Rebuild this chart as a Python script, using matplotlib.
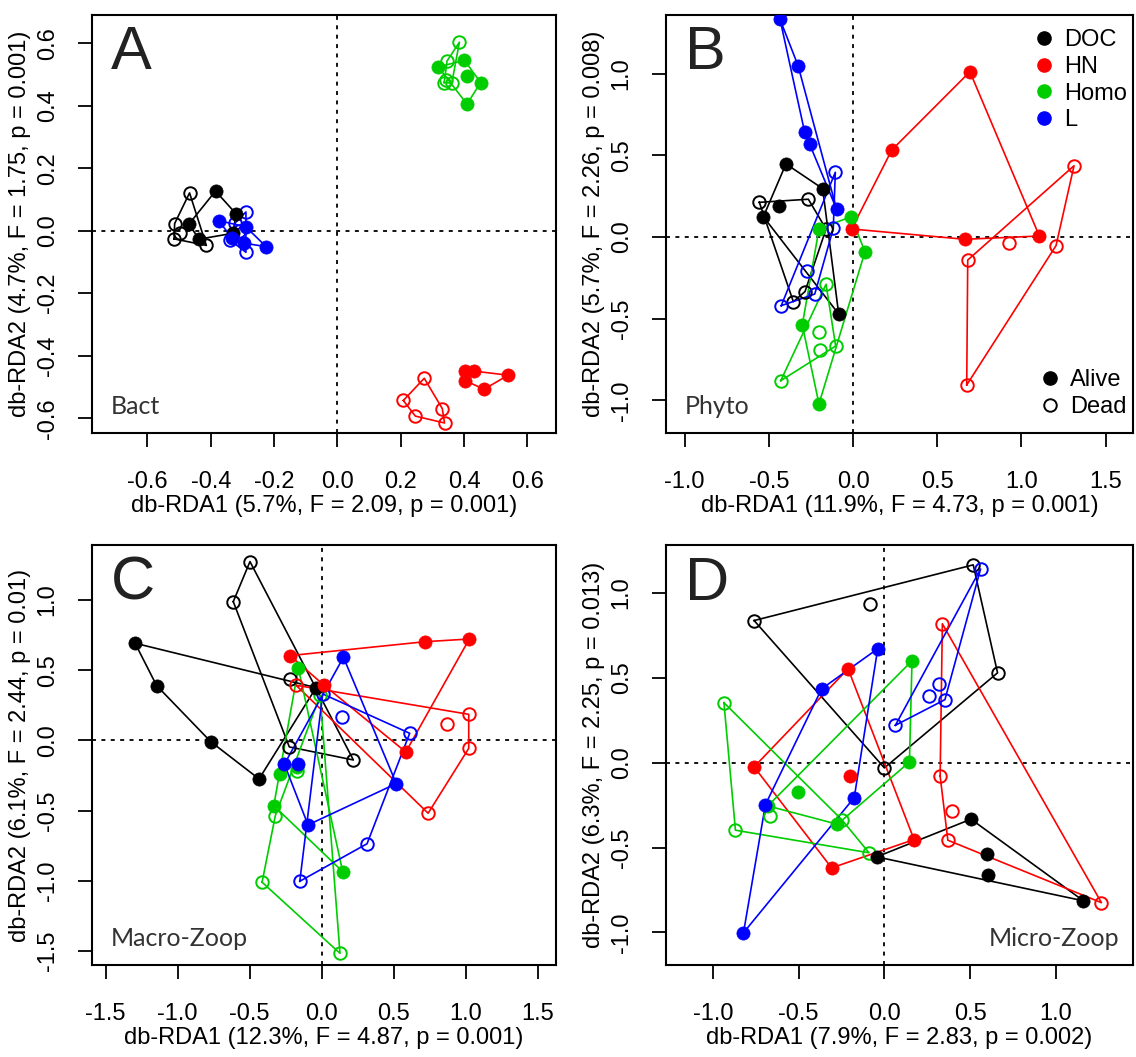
"""
db-RDA ordinations (Bact, Phyto, Macro-Zoop, Micro-Zoop) with per-group hulls.
Alive = filled circles, Dead = open circles; colour = treatment.
"""
import matplotlib.pyplot as plt
from matplotlib.lines import Line2D
from matplotlib.ticker import FormatStrFormatter

plt.rcParams["font.family"] = ["Liberation Sans", "DejaVu Sans"]
plt.rcParams["axes.unicode_minus"] = False

TREATMENTS = ["DOC", "HN", "Homo", "L"]
COLORS = {"DOC": "#000000", "HN": "#ff0000", "Homo": "#00cd00", "L": "#0000ff"}

# ---- Panel A: Bact  (treatment -> (db-RDA1, db-RDA2)) ----
BACT_ALIVE = {
    "DOC":  ([-0.469, -0.385, -0.321, -0.437, -0.329], [0.021, 0.127, 0.055, -0.027, -0.008]),
    "HN":   ([0.404, 0.430, 0.404, 0.463, 0.539], [-0.449, -0.449, -0.480, -0.507, -0.462]),
    "Homo": ([0.318, 0.401, 0.410, 0.452, 0.409], [0.524, 0.545, 0.495, 0.474, 0.405]),
    "L":    ([-0.375, -0.290, -0.294, -0.225, -0.334], [0.032, 0.013, -0.040, -0.051, -0.022]),
}
BACT_DEAD = {
    "DOC":  ([-0.467, -0.514, -0.498, -0.516, -0.414], [0.121, 0.023, -0.006, -0.026, -0.047]),
    "HN":   ([0.274, 0.208, 0.246, 0.331, 0.338], [-0.472, -0.543, -0.593, -0.569, -0.615]),
    "Homo": ([0.385, 0.346, 0.343, 0.361, 0.337], [0.603, 0.543, 0.482, 0.472, 0.474]),
    "L":    ([-0.289, -0.289, -0.340, -0.322, -0.310], [0.060, -0.069, -0.029, 0.026, 0.000]),
}

# ---- Panel B: Phyto ----
PHYTO_ALIVE = {
    "DOC":  ([-0.398, -0.180, -0.437, -0.532, -0.085], [0.447, 0.296, 0.191, 0.124, -0.471]),
    "HN":   ([0.694, 0.230, 1.106, 0.663, -0.008], [1.011, 0.532, 0.006, -0.014, 0.049]),
    "Homo": ([-0.012, -0.202, 0.071, -0.301, -0.202], [0.124, 0.049, -0.090, -0.538, -1.021]),
    "L":    ([-0.433, -0.326, -0.287, -0.257, -0.097], [1.331, 1.048, 0.642, 0.569, 0.169]),
}
PHYTO_DEAD = {
    "DOC":  ([-0.556, -0.265, -0.160, -0.354, -0.285], [0.212, 0.231, 0.049, -0.396, -0.334]),
    "HN":   ([1.312, 1.205, 0.928, 0.681, 0.675], [0.436, -0.053, -0.035, -0.141, -0.905]),
    "Homo": ([-0.160, -0.200, -0.196, -0.103, -0.429], [-0.289, -0.583, -0.691, -0.667, -0.879]),
    "L":    ([-0.105, -0.117, -0.271, -0.227, -0.426], [0.396, 0.053, -0.206, -0.349, -0.420]),
}

# ---- Panel C: Macro-Zoop ----
MACRO_ALIVE = {
    "DOC":  ([-1.295, -1.145, -0.770, -0.434, -0.038], [0.692, 0.390, -0.008, -0.274, 0.376]),
    "HN":   ([-0.219, 0.721, 1.026, 0.015, 0.585], [0.604, 0.703, 0.722, 0.395, -0.082]),
    "Homo": ([-0.161, -0.290, -0.332, 0.147, -0.170], [0.514, -0.238, -0.464, -0.934, -0.190]),
    "L":    ([0.152, -0.258, -0.165, -0.094, 0.519], [0.592, -0.169, -0.169, -0.601, -0.307]),
}
MACRO_DEAD = {
    "DOC":  ([-0.497, -0.613, -0.219, -0.224, 0.221], [1.273, 0.988, 0.435, -0.046, -0.139]),
    "HN":   ([-0.177, 1.022, 0.874, 1.022, 0.740], [0.393, 0.186, 0.117, -0.056, -0.518]),
    "Homo": ([-0.172, -0.321, -0.413, 0.128, -0.010], [-0.215, -0.535, -1.009, -1.515, 0.320]),
    "L":    ([0.008, 0.140, 0.612, 0.316, -0.151], [0.331, 0.165, 0.051, -0.735, -1.002]),
}

# ---- Panel D: Micro-Zoop ----
MICRO_ALIVE = {
    "DOC":  ([-0.045, 0.505, 1.161, 0.600, 0.604], [-0.555, -0.333, -0.814, -0.539, -0.663]),
    "HN":   ([-0.212, -0.760, -0.308, 0.173, -0.201], [0.553, -0.025, -0.620, -0.453, -0.080]),
    "Homo": ([0.161, 0.146, -0.503, -0.274, -0.680], [0.600, 0.004, -0.173, -0.363, -0.255]),
    "L":    ([-0.039, -0.366, -0.694, -0.822, -0.176], [0.671, 0.435, -0.247, -1.002, -0.206]),
}
MICRO_DEAD = {
    "DOC":  ([-0.760, 0.518, 0.660, 0.000, -0.084], [0.837, 1.165, 0.529, -0.031, 0.935]),
    "HN":   ([0.338, 0.325, 0.392, 0.370, 1.266], [0.818, -0.078, -0.286, -0.457, -0.825]),
    "Homo": ([-0.936, -0.869, -0.090, -0.246, -0.670], [0.353, -0.398, -0.531, -0.339, -0.314]),
    "L":    ([0.561, 0.064, 0.353, 0.261, 0.317], [1.141, 0.220, 0.371, 0.392, 0.465]),
}

PANELS = [
    # letter, name, alive, dead, xlabel, ylabel, xticks, yticks, xlim, ylim, box(px: l, t, r, b)
    ("A", "Bact", BACT_ALIVE, BACT_DEAD,
     "db-RDA1 (5.7%, F = 2.09, p = 0.001)", "db-RDA2 (4.7%, F = 1.75, p = 0.001)",
     [-0.6, -0.4, -0.2, 0.0, 0.2, 0.4, 0.6], [-0.6, -0.4, -0.2, 0.0, 0.2, 0.4, 0.6],
     (-0.775, 0.69), (-0.647, 0.69), (92, 15, 556, 433)),
    ("B", "Phyto", PHYTO_ALIVE, PHYTO_DEAD,
     "db-RDA1 (11.9%, F = 4.73, p = 0.001)", "db-RDA2 (5.7%, F = 2.26, p = 0.008)",
     [-1.0, -0.5, 0.0, 0.5, 1.0, 1.5], [-1.0, -0.5, 0.0, 0.5, 1.0],
     (-1.110, 1.662), (-1.199, 1.358), (666, 15, 1133, 433)),
    ("C", "Macro-Zoop", MACRO_ALIVE, MACRO_DEAD,
     "db-RDA1 (12.3%, F = 4.87, p = 0.001)", "db-RDA2 (6.1%, F = 2.44, p = 0.01)",
     [-1.5, -1.0, -0.5, 0.0, 0.5, 1.0, 1.5], [-1.5, -1.0, -0.5, 0.0, 0.5, 1.0],
     (-1.594, 1.628), (-1.598, 1.391), (92, 545, 556, 965)),
    ("D", "Micro-Zoop", MICRO_ALIVE, MICRO_DEAD,
     "db-RDA1 (7.9%, F = 2.83, p = 0.002)", "db-RDA2 (6.3%, F = 2.25, p = 0.013)",
     [-1.0, -0.5, 0.0, 0.5, 1.0], [-1.0, -0.5, 0.0, 0.5, 1.0],
     (-1.274, 1.45), (-1.192, 1.282), (666, 545, 1133, 965)),
]

W, H = 1136, 1057
FS = 17


def convex_hull(xs, ys):
    pts = sorted(set(zip(xs, ys)))

    def cross(o, a, b):
        return (a[0] - o[0]) * (b[1] - o[1]) - (a[1] - o[1]) * (b[0] - o[0])

    lower, upper = [], []
    for p in pts:
        while len(lower) >= 2 and cross(lower[-2], lower[-1], p) <= 0:
            lower.pop()
        lower.append(p)
    for p in reversed(pts):
        while len(upper) >= 2 and cross(upper[-2], upper[-1], p) <= 0:
            upper.pop()
        upper.append(p)
    hull = lower[:-1] + upper[:-1]
    hull.append(hull[0])
    return [p[0] for p in hull], [p[1] for p in hull]


def draw_panel(fig, spec):
    (letter, name, alive, dead, xlab, ylab, xt, yt, xlim, ylim, box) = spec
    l, t, r, b = box
    ax = fig.add_axes([l / W, 1 - b / H, (r - l) / W, (b - t) / H])

    ax.axhline(0, color="black", lw=1.3, ls=(0, (2.2, 3.0)), zorder=1)
    ax.axvline(0, color="black", lw=1.3, ls=(0, (2.2, 3.0)), zorder=1)

    for trt in TREATMENTS:
        c = COLORS[trt]
        for grp in (alive, dead):
            hx, hy = convex_hull(*grp[trt])
            ax.plot(hx, hy, color=c, lw=1.2, zorder=2)
        ax.plot(*dead[trt], ls="none", marker="o", ms=9, mfc="none", mec=c, mew=1.4, zorder=3)
        ax.plot(*alive[trt], ls="none", marker="o", ms=9.5, mfc=c, mec=c, mew=0.5, zorder=4)

    ax.set_xlim(*xlim)
    ax.set_ylim(*ylim)
    ax.set_xticks(xt)
    ax.set_yticks(yt)
    ax.xaxis.set_major_formatter(FormatStrFormatter("%.1f"))
    ax.yaxis.set_major_formatter(FormatStrFormatter("%.1f"))
    ax.tick_params(length=10, width=1.3, labelsize=FS, direction="out")
    ax.tick_params(axis="x", pad=17)
    ax.tick_params(axis="y", pad=14)
    for lab in ax.get_yticklabels():
        lab.set_rotation(90)
        lab.set_va("center")
    for s in ax.spines.values():
        s.set_linewidth(1.5)
    ax.set_xlabel(xlab, fontsize=FS, labelpad=2)
    ax.set_ylabel(ylab, fontsize=FS, labelpad=4)

    ax.text(0.04, 0.975, letter, transform=ax.transAxes, ha="left", va="top",
            fontsize=44, color="#222222")
    if letter == "D":
        ax.text(0.97, 0.035, name, transform=ax.transAxes, ha="right", va="bottom",
                fontsize=18, color="#333333", family=["Lato", "DejaVu Sans"])
    else:
        ax.text(0.04, 0.035, name, transform=ax.transAxes, ha="left", va="bottom",
                fontsize=18, color="#333333", family=["Lato", "DejaVu Sans"])
    return ax


fig = plt.figure(figsize=(W / 100, H / 100), dpi=100)
axes = [draw_panel(fig, spec) for spec in PANELS]

# legends live in panel B
ax_b = axes[1]
trt_handles = [Line2D([], [], ls="none", marker="o", ms=9.5, mfc=COLORS[t], mec=COLORS[t])
               for t in TREATMENTS]
leg1 = ax_b.legend(trt_handles, TREATMENTS, loc="upper right", bbox_to_anchor=(0.987, 0.966),
                   frameon=False, fontsize=FS, handletextpad=0.25, labelspacing=0.2,
                   borderpad=0, borderaxespad=0, handlelength=1.2)
ax_b.add_artist(leg1)
state_handles = [Line2D([], [], ls="none", marker="o", ms=9.5, mfc="black", mec="black"),
                 Line2D([], [], ls="none", marker="o", ms=9, mfc="none", mec="black", mew=1.4)]
ax_b.legend(state_handles, ["Alive", "Dead"], loc="lower right", bbox_to_anchor=(0.987, 0.036),
            frameon=False, fontsize=FS, handletextpad=0.25, labelspacing=0.2,
            borderpad=0, borderaxespad=0, handlelength=1.2)

fig.savefig("out.png", dpi=100)
